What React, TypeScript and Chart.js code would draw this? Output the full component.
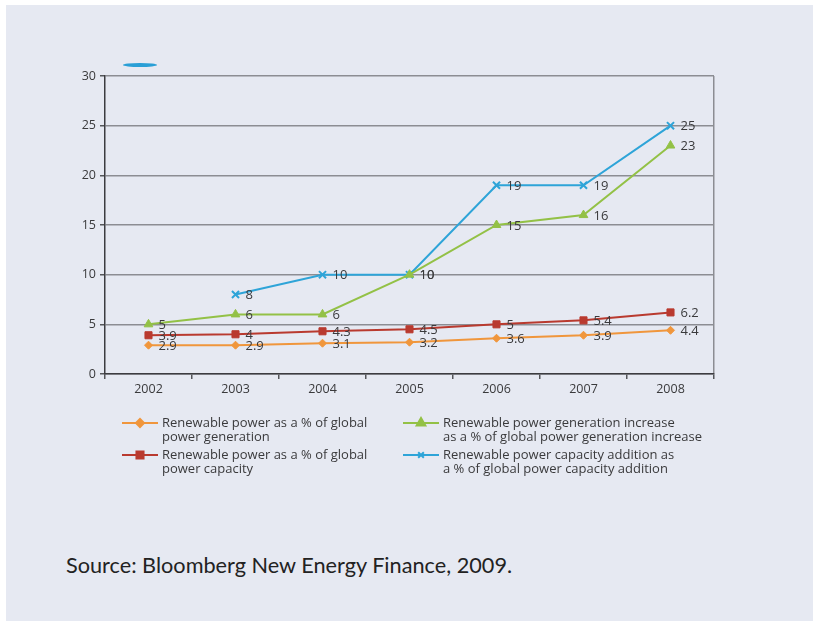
import React, { useEffect, useRef } from "react";
import { Chart, registerables } from "chart.js";
import { drawPoint } from "chart.js/helpers";

Chart.register(...registerables);

const years = ["2002", "2003", "2004", "2005", "2006", "2007", "2008"];
const genShare = [2.9, 2.9, 3.1, 3.2, 3.6, 3.9, 4.4];
const capShare = [3.9, 4, 4.3, 4.5, 5, 5.4, 6.2];
const genIncrease = [5, 6, 6, 10, 15, 16, 23];
const capAddition = [null, 8, 10, 10, 19, 19, 25];
const yTicks = [0, 5, 10, 15, 20, 25, 30];

const legendGen = ["Renewable power as a % of global", "power generation"];
const legendCap = ["Renewable power as a % of global", "power capacity"];
const legendGenInc = ["Renewable power generation increase", "as a % of global power generation increase"];
const legendCapAdd = ["Renewable power capacity addition as", "a % of global power capacity addition"];
const sourceText = "Source: Bloomberg New Energy Finance, 2009.";

const ORANGE = "#f0963c";
const RED = "#b93a2f";
const GREEN = "#93c146";
const BLUE = "#2ea4d8";
const TEXT = "#3a3a3c";
const FONT = "'Open Sans', 'Noto Sans', sans-serif";

const pointLabels = {
  id: "pointLabels",
  afterDatasetsDraw(chart: any) {
    const ctx = chart.ctx;
    ctx.save();
    ctx.font = `13px ${FONT}`;
    ctx.fillStyle = TEXT;
    ctx.textAlign = "left";
    ctx.textBaseline = "middle";
    chart.data.datasets.forEach((ds: any, i: number) => {
      const meta = chart.getDatasetMeta(i);
      meta.data.forEach((el: any, j: number) => {
        const v = ds.data[j];
        if (v == null) return;
        ctx.fillText(String(v), el.x + 10, el.y + 1);
      });
    });
    ctx.restore();
  },
};

const legendItems = [
  { lines: legendGen, color: ORANGE, style: "rectRot", r: 4, col: 0, row: 0 },
  { lines: legendCap, color: RED, style: "rect", r: 5, col: 0, row: 1 },
  { lines: legendGenInc, color: GREEN, style: "triangle", r: 5, col: 1, row: 0 },
  { lines: legendCapAdd, color: BLUE, style: "crossRot", r: 4, col: 1, row: 1 },
];

const customLegend = {
  id: "customLegend",
  afterDraw(chart: any) {
    const ctx = chart.ctx;
    const colX = [122, 403];
    const rowY = [423, 455];
    ctx.save();
    legendItems.forEach((it) => {
      const x0 = colX[it.col];
      const y0 = rowY[it.row];
      ctx.strokeStyle = it.color;
      ctx.lineWidth = 2;
      ctx.beginPath();
      ctx.moveTo(x0, y0);
      ctx.lineTo(x0 + 36, y0);
      ctx.stroke();
      ctx.fillStyle = it.color;
      ctx.strokeStyle = it.color;
      drawPoint(ctx, { pointStyle: it.style, radius: it.r, borderWidth: it.style === "crossRot" ? 2 : 1, rotation: 0 } as any, x0 + 18, y0);
      ctx.fillStyle = TEXT;
      ctx.font = `13px ${FONT}`;
      ctx.textAlign = "left";
      ctx.textBaseline = "middle";
      it.lines.forEach((t, k) => ctx.fillText(t, x0 + 40, y0 + k * 14));
    });
    ctx.restore();
  },
};

export default function App() {
  const ref = useRef<HTMLCanvasElement | null>(null);
  useEffect(() => {
    if (!ref.current) return;
    const mk = (label: string, data: any[], color: string, style: string, r: number, bw = 2) => ({
      label,
      data,
      borderColor: color,
      backgroundColor: color,
      pointBackgroundColor: color,
      pointBorderColor: color,
      pointStyle: style,
      pointRadius: r,
      pointBorderWidth: bw,
      borderWidth: 2,
      tension: 0,
    });
    const chart = new Chart(ref.current, {
      type: "line",
      data: {
        labels: years,
        datasets: [
          mk(legendGen.join(" "), genShare, ORANGE, "rectRot", 4, 1),
          mk(legendCap.join(" "), capShare, RED, "rect", 5, 1),
          mk(legendGenInc.join(" "), genIncrease, GREEN, "triangle", 5, 1),
          mk(legendCapAdd.join(" "), capAddition, BLUE, "crossRot", 5, 2),
        ],
      },
      options: {
        animation: false,
        responsive: false,
        layout: { padding: { left: 50, top: 76, right: 99, bottom: 96 } },
        plugins: { legend: { display: false }, tooltip: { enabled: false } },
        scales: {
          x: {
            offset: true,
            grid: {
              offset: true,
              drawOnChartArea: true,
              color: (c: any) => (c.type === "tick" ? "rgba(0,0,0,0)" : "#8c8d93"),
              tickColor: "#55565a",
              tickLength: 5,
              lineWidth: 1.5,
            },
            border: { display: true, color: "#3c3c40", width: 1.5 },
            ticks: { color: TEXT, font: { family: FONT, size: 12.5 }, padding: 3, maxRotation: 0 },
            afterFit: (s: any) => { s.height = 30; },
          },
          y: {
            min: 0,
            max: 30,
            afterBuildTicks: (s: any) => { s.ticks = yTicks.map((v) => ({ value: v })); },
            grid: { color: "#8c8d93", lineWidth: 1.5, tickLength: 5, tickColor: "#55565a" },
            border: { display: true, color: "#3c3c40", width: 1.5 },
            ticks: { color: TEXT, font: { family: FONT, size: 12.5 }, padding: 4 },
            afterFit: (s: any) => { s.width = 55; },
          },
        },
      },
      plugins: [pointLabels, customLegend],
    });
    return () => chart.destroy();
  }, []);

  return (
    <div style={{ position: "fixed", left: 0, top: 0, width: 813, height: 621, background: "#ffffff", overflow: "hidden" }}>
      <div style={{ position: "absolute", left: 6, top: 5, width: 807, height: 616, background: "#e6e9f2" }} />
      <div style={{ position: "absolute", left: 123, top: 63, width: 34, height: 4, background: "#2a9fd6", borderRadius: "50%" }} />
      <canvas ref={ref} width={813} height={500} style={{ position: "absolute", left: 0, top: 0, width: 813, height: 500 }} />
      <div style={{ position: "absolute", left: 66, top: 552, fontFamily: "Lato, 'Open Sans', sans-serif", fontSize: 21.7, color: "#222", whiteSpace: "nowrap", lineHeight: "26px" }}>
        {sourceText}
      </div>
    </div>
  );
}
